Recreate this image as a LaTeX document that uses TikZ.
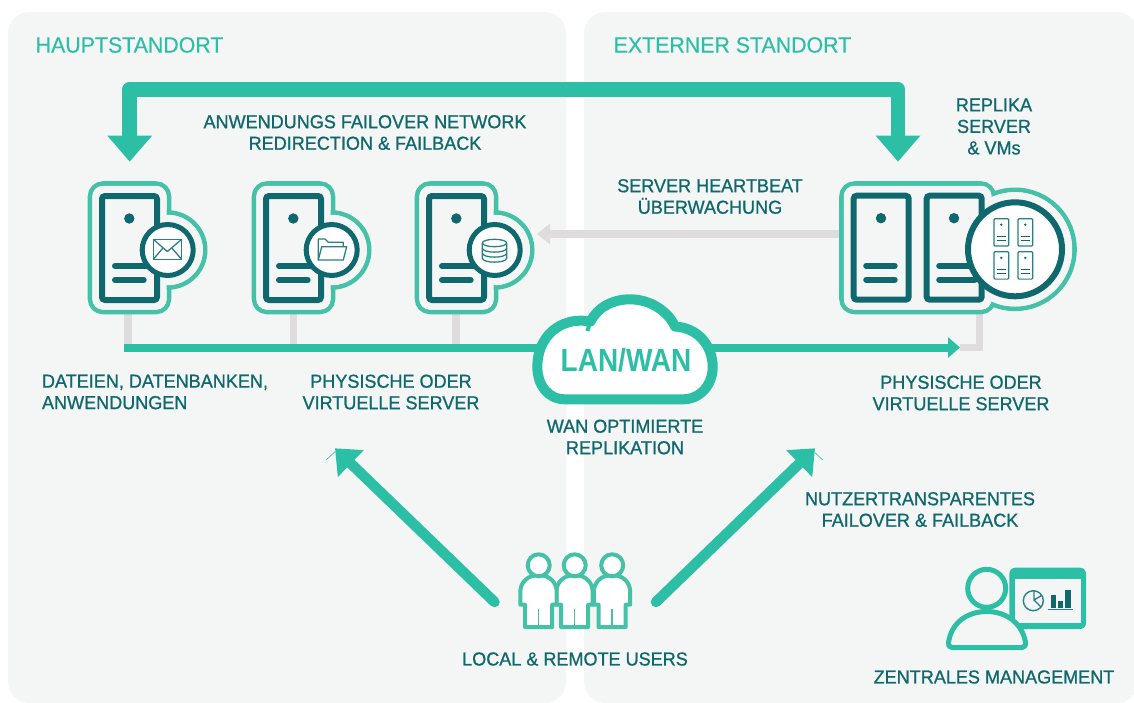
\documentclass[tikz,border=0pt]{standalone}
\usepackage{fontspec}
\setmainfont{Liberation Sans}[FakeStretch=0.97,FakeBold=0.35]
\newfontfamily\lblfam{Liberation Sans}[FakeBold=0.9,FakeStretch=0.96]
\newfontfamily\cloudfam{Liberation Sans}[FakeStretch=0.875]
\usetikzlibrary{arrows.meta}
\definecolor{panelc}{HTML}{F4F6F5}
\definecolor{greenc}{HTML}{2DBFA6}
\definecolor{outlinec}{HTML}{45C1A7}
\definecolor{tealc}{HTML}{0F686D}
\definecolor{icnc}{HTML}{2A7F83}
\definecolor{greyc}{HTML}{DEDCDD}
\tikzset{
  panel/.style={fill=panelc,rounded corners=21pt},
  lbl/.style={font=\lblfam\fontsize{18.8}{21.5}\selectfont,text=tealc,align=center,inner sep=0pt,outer sep=0pt},
  head/.style={font=\fontsize{22}{26}\selectfont,text=greenc,inner sep=0pt,anchor=west},
  bigarrow/.style={draw=greenc,line width=14.7pt,line join=round,{Triangle[length=26pt,width=43pt]}-{Triangle[length=26pt,width=43pt]}},
  diagarrow/.style={draw=greenc,line width=10.5pt,line cap=round,-{Triangle[length=22pt,width=36pt]}},
  hair/.style={draw=greenc,line width=0.6pt},
  frameR/.style={draw=outlinec,line width=4.6pt,fill=panelc,rounded corners=13pt,inner sep=0pt,outer sep=0pt},
  frameC/.style={circle,draw=outlinec,line width=4.6pt,fill=panelc,inner sep=0pt,outer sep=0pt},
  fillR/.style={fill=panelc,rounded corners=10.5pt,inner sep=0pt,outer sep=0pt},
  fillC/.style={circle,fill=panelc,inner sep=0pt,outer sep=0pt},
  srv/.style={draw=tealc,line width=6pt,rounded corners=3pt},
  srvline/.style={draw=tealc,line width=6pt,line cap=round},
  badge/.style={circle,draw=tealc,fill=white,inner sep=0pt,outer sep=0pt},
  icn/.style={draw=icnc,line width=1.3pt,line join=round},
  mini/.style={draw=icnc,line width=1.2pt,rounded corners=1pt},
  stub/.style={draw=greyc,line width=7.5pt},
  bus/.style={draw=greenc,line width=8pt},
  person/.style={draw=outlinec,line width=4pt,fill=white,line join=round},
  mgr/.style={draw=greenc,line width=5pt,fill=panelc,line join=round},
}
\newcommand\SrvBody[1]{%
  \begin{scope}[shift={(#1,0)}]
    \draw[srv] (102,196) rectangle (157,300);
    \fill[tealc] (129.3,218.5) circle (5.2);
    \draw[srvline] (115,266) -- (150,266);
    \draw[srvline] (115,280) -- (143.7,280);
  \end{scope}}
\newcommand\SrvFrame[2]{%
  \node[frameR,minimum width=79pt,minimum height=128.5pt] (#1) at (129.5+#2,247.75) {};
  \node[frameC,minimum size=75pt] (#1c) at (167.7+#2,250) {};
  \node[fillR,minimum width=74.4pt,minimum height=123.9pt] at (129.5+#2,247.75) {};
  \node[fillC,minimum size=70.4pt] at (167.7+#2,250) {};
  \SrvBody{#2}
  \node[badge,line width=5pt,minimum size=51pt] (#1b) at (167.7+#2,250) {};}
\newcommand\MiniSrv[2]{%
  \begin{scope}[shift={(#1,#2)}]
    \draw[mini] (0,0) rectangle (14.7,27.3);
    \fill[tealc] (7.3,6) circle (1.3);
    \draw[tealc,line width=1.1pt] (3,17.5) -- (11.7,17.5) (3,21.5) -- (11.7,21.5);
  \end{scope}}
\newcommand\Person[1]{%
  \begin{scope}[shift={(#1,0)}]
    \draw[person] (520.3,604.7) -- (520.3,592) .. controls (520.3,582) and (528,575) .. (538.7,575)
      .. controls (549,575) and (556.7,582) .. (556.7,592) -- (556.7,604.7) -- (552.2,604.7) -- (552.2,627) -- (525,627) -- (525,604.7) -- cycle;
    \draw[outlinec,line width=1.6pt] (538.5,609) -- (538.5,627);
    \draw[person] (538.7,565.3) circle (11);
  \end{scope}}
\begin{document}
\begin{tikzpicture}[x=1pt,y=-1pt]
\useasboundingbox (0,0) rectangle (1134,702);
\clip (0,0) rectangle (1134,702);
% panels
\fill[panel] (8,12) rectangle (566,703);
\fill[panel] (584,12) rectangle (1138,703);
\node[head] (hq) at (35.5,45) {HAUPTSTANDORT};
\node[head] (ext) at (613.5,45) {EXTERNER STANDORT};
% named connector ends
\coordinate (topL) at (129.7,161.7);
\coordinate (topR) at (898,161.7);
\coordinate (topM) at (129.7,89.3);
\coordinate (stubA) at (128,347.5);
\coordinate (stubB) at (293.3,347.5);
\coordinate (stubC) at (456,347.5);
\coordinate (busL) at (124,347.5);
\coordinate (cloudW) at (540,347.5);
\coordinate (cloudE) at (710,347.5);
\coordinate (busR) at (960,347.5);
\coordinate (stubR) at (979.7,347.5);
\coordinate (hbR) at (842,234);
\coordinate (hbL) at (537,234);
\coordinate (usrL) at (494.5,602);
\coordinate (usrR) at (656,602);
\coordinate (dgL) at (335,448.3);
\coordinate (dgR) at (815,448.3);
% top arrow
\draw[bigarrow] (topL) -- (topM) -| (topR);
% grey connectors
\draw[stub,-{Triangle[length=13pt,width=20pt]}] (hbR) -- (hbL);
\draw[stub] (stubA) -- (128,314);
\draw[stub] (stubB) -- (293.3,314);
\draw[stub] (stubC) -- (456,314);
\draw[stub] (979.7,314) -- (stubR) -- (busR);
% bus
\draw[bus] (busL) -- (cloudW);
\draw[bus,-{Triangle[length=12pt,width=20pt]}] (cloudE) -- (busR);
% servers
\SrvFrame{srvA}{0}
\SrvFrame{srvB}{164}
\SrvFrame{srvC}{327}
% envelope
\draw[icn] (153.3,239.3) rectangle (181.7,259.3);
\draw[icn] (153.3,239.3) -- (167.3,251.5) -- (181.7,239.3);
\draw[icn] (153.3,259.3) -- (162.7,248.3) (181.7,259.3) -- (172,248.3);
% folder
\draw[icn] (318.3,260) -- (318.3,239) -- (325,239) -- (328.3,242.3) -- (343.3,242.3) -- (343.3,246.7);
\draw[icn] (318.3,260) -- (321.7,246.7) -- (346.7,246.7) -- (343.3,260) -- cycle;
% database
\draw[icn] (494.5,243) ellipse (12.2 and 3.7);
\draw[icn] (482.3,243) -- (482.3,258) .. controls (482.3,263.5) and (506.7,263.5) .. (506.7,258) -- (506.7,243);
\draw[icn] (482.3,248) .. controls (482.3,253.5) and (506.7,253.5) .. (506.7,248);
\draw[icn] (482.3,253) .. controls (482.3,258.5) and (506.7,258.5) .. (506.7,253);
% replica
\node[frameR,minimum width=152.5pt,minimum height=128.5pt] (srvR) at (917.7,247.75) {};
\node[frameC,minimum size=119pt] (srvRc) at (1015,249.3) {};
\node[fillR,minimum width=147.9pt,minimum height=123.9pt] at (917.7,247.75) {};
\node[fillC,minimum size=114.4pt] at (1015,249.3) {};
\begin{scope}[shift={(751.7,-0.3)}]
  \draw[srv] (102,196) rectangle (157,300);
  \fill[tealc] (129.3,218.5) circle (5.2);
  \draw[srvline] (114.5,266) -- (143,266);
  \draw[srvline] (114.5,280) -- (143,280);
\end{scope}
\begin{scope}[shift={(824.7,-0.3)}]
  \draw[srv] (102,196) rectangle (157,300);
  \fill[tealc] (129.3,218.5) circle (5.2);
  \draw[srvline] (114.5,266) -- (150,266);
  \draw[srvline] (114.5,280) -- (150,280);
\end{scope}
\node[badge,line width=6pt,minimum size=94pt] (srvRb) at (1015,249.3) {};
\MiniSrv{994}{218.7}
\MiniSrv{1018}{218.7}
\MiniSrv{994}{251.8}
\MiniSrv{1018}{251.8}
% cloud
\draw[draw=greenc,line width=10pt,fill=white,line join=round]
  (565,399.3) .. controls (548,399.3) and (537.3,385) .. (537.3,366.7)
  .. controls (537.3,337) and (560,316) .. (590.5,321.5)
  .. controls (597,308) and (612,299.3) .. (630,299.3)
  .. controls (650,299.3) and (668,311) .. (675,326.5)
  .. controls (697,327.5) and (712.7,345) .. (712.7,367)
  .. controls (712.7,385) and (700,399.3) .. (683,399.3) -- cycle;
\draw[greenc,line width=4pt] (590.5,320) -- (587.5,331);
\node[font=\cloudfam\bfseries\fontsize{32}{36}\selectfont,text=greenc,inner sep=0pt] (lanwan) at (626,360) {LAN/WAN};
% diagonal arrows
\draw[diagarrow] (usrL) -- (dgL);
\draw[diagarrow] (usrR) -- (dgR);
\draw[hair] (335,451.7) -- (326,460);
\draw[hair] (815,452.7) -- (822.7,460);
% users
\Person{73.5}
\Person{36}
\Person{0}
% manager
\fill[greenc,rounded corners=6pt] (1009.3,567.7) rectangle (1086,629);
\fill[panelc] (1015,579) rectangle (1080.7,623.3);
\draw[icnc,line width=1.4pt] (1033.3,600.7) circle (10);
\draw[icnc,line width=1.4pt] (1034,590.5) -- (1034,600) -- (1041.5,595.5) (1034,600) -- (1041,607);
\fill[tealc] (1050.7,595) rectangle (1056,607.7);
\fill[tealc] (1058,601) rectangle (1063.3,607.7);
\fill[tealc] (1065.3,589.7) rectangle (1070.7,607.7);
\draw[icnc,line width=1.2pt] (1047.7,609.5) -- (1073.3,609.5);
\draw[mgr] (952,647.5) .. controls (949,647.5) and (948,645) .. (948.5,642.5)
  .. controls (951,624) and (966,611.5) .. (986.7,611.5)
  .. controls (1007,611.5) and (1022.5,624) .. (1025.5,642.5)
  .. controls (1026,645) and (1025,647.5) .. (1022,647.5) -- cycle;
\draw[mgr] (986.7,588.3) circle (19);
% labels
\node[lbl] (l1) at (365,132.5) {ANWENDUNGS FAILOVER NETWORK\\REDIRECTION \& FAILBACK};
\node[lbl] (l2) at (994,126.5) {REPLIKA\\SERVER\\\& VMs};
\node[lbl] (l3) at (710,196.5) {SERVER HEARTBEAT\\ÜBERWACHUNG};
\node[lbl,anchor=west,align=left] (l4) at (42,392) {DATEIEN, DATENBANKEN,\\ANWENDUNGEN};
\node[lbl] (l5) at (391,392) {PHYSISCHE ODER\\VIRTUELLE SERVER};
\node[lbl] (l6) at (961,393) {PHYSISCHE ODER\\VIRTUELLE SERVER};
\node[lbl] (l7) at (625,437) {WAN OPTIMIERTE\\REPLIKATION};
\node[lbl] (l8) at (920,509.5) {NUTZERTRANSPARENTES\\FAILOVER \& FAILBACK};
\node[lbl] (l9) at (575,659) {LOCAL \& REMOTE USERS};
\node[lbl] (l10) at (994,677) {ZENTRALES MANAGEMENT};
\end{tikzpicture}
\end{document}
